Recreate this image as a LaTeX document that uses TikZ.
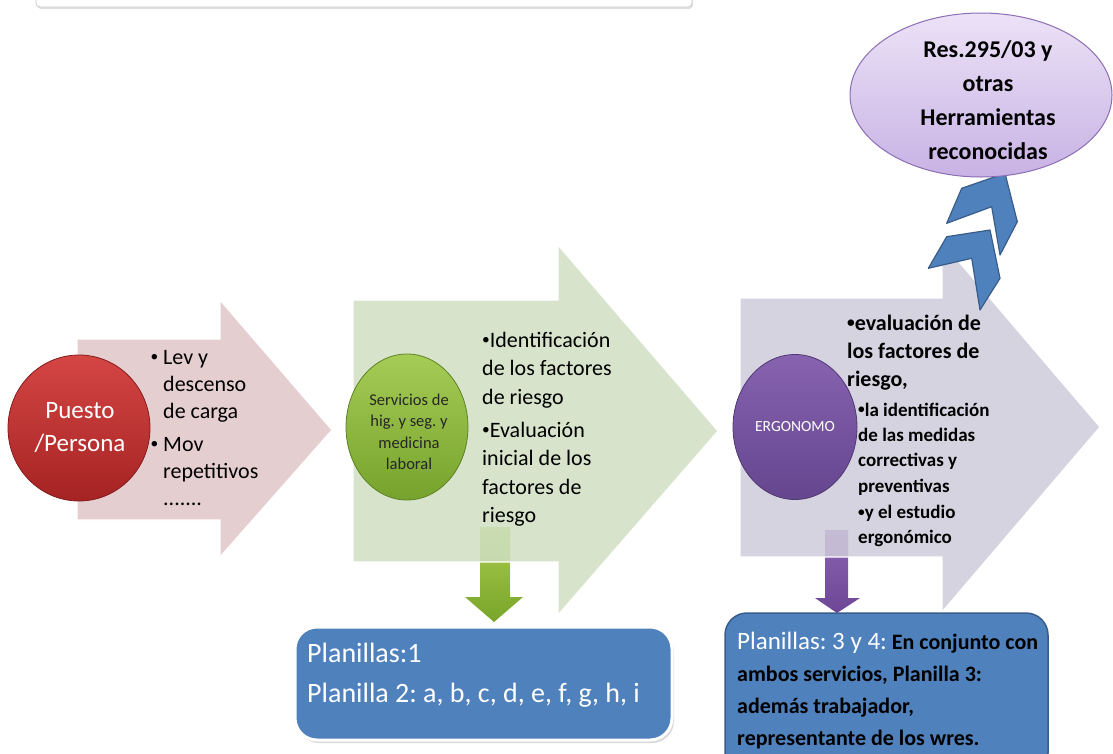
\documentclass[tikz,border=0pt]{standalone}
\usepackage{fontspec}
\usepackage{graphicx}
\setmainfont{Carlito}
\usetikzlibrary{shapes.geometric,shadows}
\frenchspacing
\newcommand\mystrut[1]{\rule{0pt}{#1pt}}
\newcommand\bul{\raisebox{0.12em}{\scalebox{0.7}{\textbullet}}}
\definecolor{pinkA}{HTML}{E0C5C8}
\definecolor{greenA}{HTML}{D0DFC2}
\definecolor{lavA}{HTML}{CFCBDA}
\definecolor{redT}{RGB}{212,70,68}
\definecolor{redB}{RGB}{165,35,35}
\definecolor{grnT}{RGB}{165,204,85}
\definecolor{grnB}{RGB}{118,163,45}
\definecolor{purT}{RGB}{135,98,176}
\definecolor{purB}{RGB}{100,70,142}
\definecolor{ellT}{RGB}{236,226,247}
\definecolor{ellB}{RGB}{200,178,228}
\definecolor{ellD}{RGB}{140,110,180}
\definecolor{blueF}{HTML}{4F81BD}
\definecolor{blueD}{HTML}{385D8A}
\definecolor{dgreenT}{RGB}{170,205,80}
\definecolor{dgreenB}{RGB}{120,165,40}
\definecolor{dpurT}{RGB}{140,100,180}
\definecolor{dpurB}{RGB}{110,70,150}
\tikzset{
  bigarrow/.style={fill opacity=0.85, draw=white, line width=1.2pt},
  ballnode/.style={ellipse, inner sep=0pt, draw=#1, line width=0.8pt},
  txt/.style={anchor=north west, inner sep=0pt, align=left},
  chev/.style={fill=blueF, draw=blueD, line width=1.2pt, line join=round},
  bluebox/.style={fill=blueF, rounded corners=22pt}
}
\begin{document}
\begin{tikzpicture}[x=1pt,y=-1pt]
\useasboundingbox (0,0) rectangle (1113,753);
% top box
\draw[fill=white, draw=black!20, line width=0.8pt, rounded corners=4pt,
  drop shadow={opacity=0.25, shadow xshift=1pt, shadow yshift=-2pt}] (36,-20) rectangle (692,7);
% down arrows (under big arrows)
\path[top color=dgreenT, bottom color=dgreenB] (480,527) -- (510,527) -- (510,597) -- (523,597) -- (494,622) -- (465,597) -- (480,597) -- cycle;
\path[top color=dpurT, bottom color=dpurB] (825,530) -- (848,530) -- (848,598) -- (860,598) -- (837,613) -- (815,598) -- (825,598) -- cycle;
% big arrows
\path[bigarrow, fill=pinkA] (77,339) -- (220,339) -- (220,300) -- (332,430) -- (220,557) -- (220,520) -- (77,520) -- cycle;
\path[bigarrow, fill=greenA] (353,300) -- (558,300) -- (558,245) -- (718,431) -- (558,615) -- (558,562) -- (353,562) -- cycle;
\path[bigarrow, fill=lavA] (740,298) -- (942,298) -- (942,242) -- (1100,427) -- (942,612) -- (942,557) -- (740,557) -- cycle;
% circles
\node[ballnode=redB!80!black, top color=redT, bottom color=redB, minimum width=142pt, minimum height=146pt] (puesto) at (79,428) {};
\node[text=white, font=\fontsize{25}{33}\selectfont, align=center, inner sep=0pt] (puestot) at (80,428) {Puesto\\/Persona};
\node[ballnode=grnB!80!black, top color=grnT, bottom color=grnB, minimum width=122pt, minimum height=146pt] (serv) at (407,427) {};
\node[text=black!85, font=\fontsize{16.5}{21.5}\selectfont, align=center, inner sep=0pt] (servt) at (409,432) {Servicios de\\hig. y seg. y\\medicina\\laboral};
\node[ballnode=purB!80!black, top color=purT, bottom color=purB, minimum width=124pt, minimum height=145pt] (ergo) at (795,427) {};
\node[text=white, font=\fontsize{15.5}{19}\selectfont, inner sep=0pt] (ergot) at (795,427) {ERGONOMO};
% texts in arrows
\node[txt, font=\fontsize{22}{27}\selectfont] (t1) at (163,344)
 {\mystrut{20}\llap{\bul\hspace{5pt}}Lev y\\ descenso\\ de carga\\[6pt] \llap{\bul\hspace{5pt}}Mov\\ repetitivos\\ .......};
\node[txt, font=\fontsize{22}{28.5}\selectfont] (t2) at (482,327)
 {\mystrut{20}\bul Identificación\\ de los factores\\ de riesgo\\[4.5pt] \bul Evaluación\\ inicial de los\\ factores de\\ riesgo};
\node[txt, font=\bfseries\fontsize{22}{28}\selectfont] (t3) at (847,310)
 {\mystrut{20}\bul evaluación de\\ los factores de\\ riesgo,};
\node[txt, font=\bfseries\fontsize{19}{25.3}\selectfont] (t4) at (858,399)
 {\mystrut{17}\bul la identificación\\ de las medidas\\ correctivas y\\ preventivas\\[1pt] \bul y el estudio\\ ergonómico};
% chevrons
\path[chev] (946.7,223.3) -- (961.7,188.3) -- (1005,173.3) -- (1017.3,221.7) -- (1000,255) -- (991.7,206.7) -- cycle;
\path[chev] (928.3,268.3) -- (946.7,236.7) -- (990,230) -- (1000,278.3) -- (980,310) -- (971.7,258.3) -- cycle;
% ellipse
\node[ellipse, draw=ellD, line width=1pt, top color=ellT, bottom color=ellB, minimum width=262pt, minimum height=164pt, inner sep=0pt] (res) at (981,95) {};
\node[font=\bfseries\fontsize{24}{34}\selectfont, align=center, inner sep=0pt] (rest) at (988,100) {Res.295/03 y\\otras\\Herramientas\\reconocidas};
% blue boxes
\draw[bluebox, draw=white, line width=3pt, drop shadow={opacity=0.3, shadow xshift=2pt, shadow yshift=-3pt}] (295,627) rectangle (672,740);
\node[txt, text=white, font=\fontsize{28}{40}\selectfont] (b1) at (307,638)
 {\mystrut{24}Planillas:1\\ Planilla 2: a, b, c, d, e, f, g, h, i};
\draw[bluebox, draw=blueD, line width=1.5pt] (725,613) rectangle (1048,775);
\node[txt, font=\bfseries\fontsize{22}{32}\selectfont] (b2) at (737,627)
 {\mystrut{22}{\mdseries\color{white}\fontsize{25}{32}\selectfont Planillas: 3 y 4:} En conjunto con\\ ambos servicios, Planilla 3:\\ además trabajador,\\ representante de los wres.};
\end{tikzpicture}
\end{document}
